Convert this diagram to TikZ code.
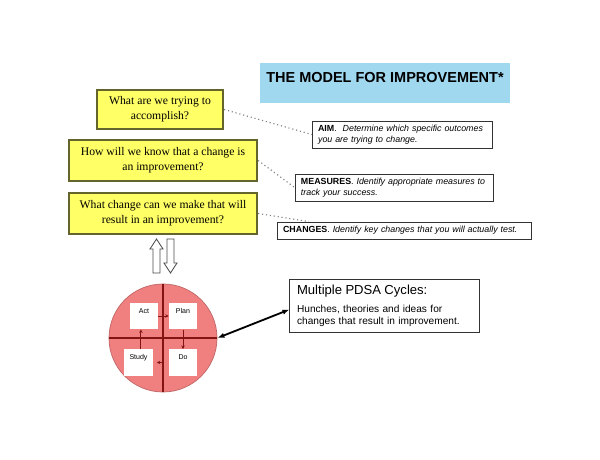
\documentclass[tikz,border=0pt]{standalone}
\usepackage{fontspec}
\setmainfont{Liberation Serif}
\setsansfont{Liberation Sans}
\usepackage{xcolor}
\usepackage{tikz}
\usetikzlibrary{arrows.meta, positioning, calc}

\definecolor{questionyellow}{RGB}{255,255,102}
\definecolor{questionborder}{RGB}{100,100,45}
\definecolor{titleblue}{RGB}{160,216,239}
\definecolor{cyclered}{RGB}{240,128,128}
\definecolor{cycleline}{RGB}{130,20,20}

\begin{document}
\begin{tikzpicture}[x=0.025cm, y=-0.025cm,
    question/.style={draw=questionborder, line width=1.6pt, fill=questionyellow, align=center, inner sep=0pt, font=\fontsize{8.3}{10.7}\selectfont},
    answer/.style={draw=black!80, line width=0.6pt, fill=white, align=left, inner xsep=4.2pt, inner ysep=1pt, font=\sffamily\fontsize{6.3}{7.6}\selectfont},
    link/.style={draw=gray, dotted, line width=0.8pt},
    phasebox/.style={fill=white, minimum width=0.7cm, inner sep=1pt, text height=6.5pt, text depth=10.3pt, font=\sffamily\fontsize{5}{6}\selectfont},
    cyclearrow/.style={draw=cycleline, line width=0.6pt, -{Stealth[length=2.5pt, width=2.5pt]}},
    hollow/.style={draw=black!70, line width=0.6pt, fill=white}]

    \path[use as bounding box, fill=white] (0,0) rectangle (600,460);

    % Title
    \node[fill=titleblue, minimum width=6.25cm, minimum height=1cm] (titlebox) at (385,83) {};
    \node[anchor=base, font=\sffamily\bfseries\fontsize{10.3}{12}\selectfont] (title) at (385,82) {THE MODEL FOR IMPROVEMENT*};

    % Three questions
    \node[question, minimum width=3.15cm, minimum height=0.975cm] (aimq) at (160,109.5) {What are we trying to\\accomplish?};
    \node[question, minimum width=4.7cm, minimum height=1.025cm] (measureq) at (163,160.5) {How will we know that a change is\\an improvement?};
    \node[question, minimum width=4.7cm, minimum height=1.025cm] (changeq) at (163,213.5) {What change can we make that will\\result in an improvement?};

    % Notes
    \node[answer, text width=4.22cm, minimum height=0.675cm] (aim) at (402.5,134.5) {\textbf{AIM}.\ \ \textit{Determine which specific outcomes\\you are trying to change.}};
    \node[answer, text width=4.65cm, minimum height=0.675cm] (measures) at (394,187.5) {\textbf{MEASURES}. \textit{Identify appropriate measures to\\track your success.}};
    \node[answer, text width=6.07cm, minimum height=0.425cm] (changes) at (404.5,230.5) {\textbf{CHANGES}. \textit{Identify key changes that you will actually test.}};

    \draw[link] (aimq.east) -- (aim.west);
    \draw[link] (measureq.east) -- (measures.west);
    \draw[link] (changeq.east) -- ([xshift=0.8cm]changes.north west);

    % Up and down arrows
    \draw[hollow] (150,249) -- (156.5,239) -- (163,249) -- (160,249) -- (160,273) -- (153,273) -- (153,249) -- cycle;
    \draw[hollow] (164,263) -- (170.5,273) -- (177,263) -- (174,263) -- (174,239) -- (167,239) -- (167,263) -- cycle;

    % PDSA cycle
    \node[circle, fill=cyclered, draw=cyclered!80!black, line width=0.5pt, minimum size=2.7cm, inner sep=0pt] (cycle) at (163,338) {};
    \draw[cycleline, line width=1pt] (cycle.north) -- (cycle.south);
    \draw[cycleline, line width=1pt] (cycle.west) -- (cycle.east);

    \node[phasebox] (act) at (144,316) {Act};
    \node[phasebox] (plan) at (183,316) {Plan};
    \node[phasebox] (study) at (138.5,362.5) {Study};
    \node[phasebox] (do) at (183,362.5) {Do};

    \draw[cyclearrow] (act) -- (plan);
    \draw[cyclearrow] (plan) -- (do);
    \draw[cyclearrow] ([xshift=-0.15cm]do.west) -- ([xshift=0.1cm]study.east);
    \draw[cyclearrow] ([xshift=0.06cm]study.north) -- ([xshift=0.06cm]study.north |- act.south);

    % PDSA note
    \node[draw=black!80, line width=0.7pt, fill=white, minimum width=4.725cm, minimum height=1.325cm, text width=4.37cm, inner xsep=5pt, align=left, font=\sffamily\fontsize{7.2}{8.5}\selectfont] (pdsa) at (384.5,305.5) {{\fontsize{9.3}{11}\selectfont Multiple PDSA Cycles:}\\[4.3pt]Hunches, theories and ideas for\\changes that result in improvement.};

    \draw[line width=1.3pt, {Latex[length=5pt]}-{Latex[length=5pt]}] (cycle.east) -- ([yshift=-0.1cm]pdsa.west);
\end{tikzpicture}
\end{document}
